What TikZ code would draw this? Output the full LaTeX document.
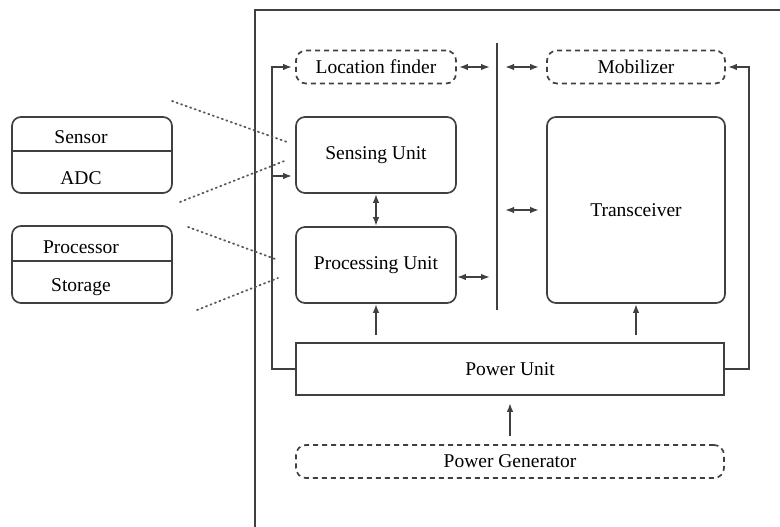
\documentclass[tikz,border=0pt]{standalone}
\usepackage{fontspec}
\setmainfont{Liberation Serif}
\usetikzlibrary{arrows.meta}

\begin{document}
\begin{tikzpicture}[x=1pt, y=-1pt, line width=1.7pt, color=black!75,
  every node/.style={text=black, font=\fontsize{19.5}{22}\selectfont},
  unitbox/.style={draw, rounded corners=9pt, minimum width=160pt, minimum height=76pt, inner sep=0pt},
  dashbox/.style={draw, dash pattern=on 5pt off 4pt, rounded corners=10pt, minimum height=33pt, inner sep=0pt},
  tip/.tip={Latex[length=9pt, width=6.5pt]},
  link/.style={-tip},
  dlink/.style={tip-tip},
  dots/.style={draw=black!65, line width=1.8pt, line cap=round, dash pattern=on 1.2pt off 3.6pt}]

\useasboundingbox (0,0) rectangle (780,527);
\clip (0,0) rectangle (780,527);

% enclosing frame of the node
\draw (255,560) -- (255,10) -- (820,10);

% inner units
\node[dashbox, minimum width=160pt] (loc) at (376,67) {Location finder};
\node[dashbox, minimum width=178pt] (mob) at (636,67) {Mobilizer};
\node[unitbox] (sens) at (376,155) {Sensing Unit};
\node[unitbox] (proc) at (376,265) {Processing Unit};
\node[draw, rounded corners=9pt, minimum width=178pt, minimum height=186pt, inner sep=0pt] (trx) at (636,210) {Transceiver};
\node[draw, minimum width=428pt, minimum height=52pt, inner sep=0pt] (pwr) at (510,369) {Power Unit};
\node[dashbox, minimum width=428pt] (gen) at (510,461.5) {Power Generator};

% internal bus
\coordinate (busT) at (497,43);
\coordinate (busB) at (497,310);
\draw (busT) -- (busB);

\coordinate (b1) at (490,67);
\coordinate (b2) at (505,67);
\coordinate (b3) at (490,277);
\coordinate (b4) at (505,210);

\draw[dlink, shorten <=2pt] (loc.east) -- (b1);
\draw[dlink, shorten >=7pt] (b2) -- (mob.west);
\draw[dlink] (b3 -| proc.east) -- (b3);
\draw[dlink, shorten >=7pt] (b4) -- (b4 -| trx.west);
\draw[dlink] (sens.south) -- (proc.north);

% power distribution
\coordinate (lcorner) at (272,369);
\coordinate (ltop) at (272,67);
\coordinate (lmid) at (272,176);
\coordinate (rcorner) at (749,369);
\coordinate (rtop) at (749,67);
\draw[link, shorten >=3pt] (pwr.west) -- (lcorner) -- (ltop) -- (loc.west);
\draw[link, shorten >=3pt] (lmid) -- (lmid -| sens.west);
\draw[link, shorten >=2pt] (pwr.east) -- (rcorner) -- (rtop) -- (mob.east);

\coordinate (pa) at (376,335);
\coordinate (ta) at (636,335);
\draw[link] (pa) -- (proc.south);
\draw[link] (ta) -- (trx.south);
\draw[link, shorten <=8pt, shorten >=7pt] (gen.north) -- (pwr.south);

% detail boxes
\node[draw, rounded corners=9pt, minimum width=160pt, minimum height=76pt, inner sep=0pt] (sa) at (92,155) {};
\draw (sa.west |- 0,151) -- (sa.east |- 0,151);
\node (sensor) at (81,137) {Sensor};
\node (adc) at (81,178) {ADC};

\node[draw, rounded corners=9pt, minimum width=160pt, minimum height=77pt, inner sep=0pt] (ps) at (92,264.5) {};
\draw (ps.west |- 0,261) -- (ps.east |- 0,261);
\node (processor) at (81,247) {Processor};
\node (storage) at (81,287) {Storage};

% zoom lines
\coordinate (d1a) at (172,101);
\coordinate (d1b) at (287,142);
\coordinate (d2a) at (180,202);
\coordinate (d2b) at (287,160);
\coordinate (d3a) at (188,227);
\coordinate (d3b) at (278,260);
\coordinate (d4a) at (197,310);
\coordinate (d4b) at (278,278);
\draw[dots] (d1a) -- (d1b);
\draw[dots] (d2a) -- (d2b);
\draw[dots] (d3a) -- (d3b);
\draw[dots] (d4a) -- (d4b);
\end{tikzpicture}
\end{document}
